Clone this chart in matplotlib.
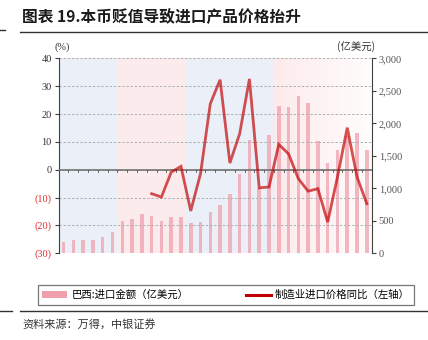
import matplotlib
matplotlib.use("Agg")
import matplotlib.pyplot as plt
import numpy as np
from matplotlib.lines import Line2D
from matplotlib.patches import Patch

years = [str(y) for y in range(1989, 2021)]
imports = [174, 200, 200, 200, 251, 323, 492, 523, 600, 579, 492, 559, 554,
           472, 487, 631, 744, 918, 1215, 1745, 1000, 1826, 2270, 2246, 2415,
           2308, 1723, 1385, 1585, 1810, 1857, 1585]
price_years = [str(y) for y in range(1998, 2021)]
price_yoy = [-8.6, -9.8, -0.9, 1.2, -14.8, -1.4, 23.7, 32.3, 2.4, 12.9, 32.6,
             -6.5, -6.2, 9.1, 5.7, -3.2, -7.7, -6.8, -18.8, -2.6, 15.1, -2.6, -12.2]
left_ticks = [40, 30, 20, 10, 0, -10, -20, -30]
left_labels = ["40", "30", "20", "10", "0", "(10)", "(20)", "(30)"]
right_ticks = [0, 500, 1000, 1500, 2000, 2500, 3000]
right_labels = ["0", "500", "1,000", "1,500", "2,000", "2,500", "3,000"]
title = "图表 19.本币贬值导致进口产品价格抬升"
source = "资料来源：万得，中银证券"
bar_label = "巴西:进口金额（亿美元）"
line_label = "制造业进口价格同比（左轴）"

cjk = ["Noto Sans CJK SC", "DejaVu Sans"]
serif = ["Liberation Serif", "DejaVu Serif"]

fig = plt.figure(figsize=(4.28, 3.40), dpi=100)
W, H = 428, 340
x0, x1, ytop, ybot = 58.7, 371.7, 58.3, 253.3
ax = fig.add_axes([x0 / W, 1 - ybot / H, (x1 - x0) / W, (ybot - ytop) / H])
ax2 = ax.twinx()
ax.set_zorder(ax2.get_zorder() + 1)
ax.patch.set_visible(False)

xs = np.arange(len(years))
ax.set_xlim(-0.5, len(years) - 0.5)
ax.set_ylim(-30, 40)
ax2.set_ylim(0, 3000)

# background shading
ax2.axvspan(-0.5, 5.5, color="#eaeff8", zorder=0, lw=0)
ax2.axvspan(5.5, 12.5, color="#fcebec", zorder=0, lw=0)
ax2.axvspan(12.5, 21.5, color="#eaeff8", zorder=0, lw=0)
grad = np.linspace(0, 1, 256).reshape(1, -1)
c0 = np.array([0.99, 0.92, 0.925])
c1 = np.array([1.0, 0.99, 0.99])
img = c0[None, None, :] * (1 - grad[..., None]) + c1[None, None, :] * grad[..., None]
ax2.imshow(img, extent=[21.5, len(years) - 0.5, 0, 3000], aspect="auto", zorder=0.5)
ax2.set_xlim(-0.5, len(years) - 0.5)

# bars
ax2.bar(xs, imports, width=0.36, color="#f0a0ad", alpha=0.75, zorder=2, lw=0)

# gridlines
for t in left_ticks:
    if t != 0:
        ax.axhline(t, color="#b0b0b0", lw=0.7, ls=(0, (2.5, 1.8)), zorder=1)
ax.axhline(0, color="#707070", lw=1.2, zorder=3)
for k in range(1, len(years)):
    ax.plot([k - 0.5, k - 0.5], [0, -0.9], color="#505050", lw=0.6, zorder=3)

# line
px = [years.index(y) for y in price_years]
ax.plot(px, price_yoy, color="#c00000", alpha=0.68, lw=2.0, zorder=4,
        solid_joinstyle="miter")

# axes formatting
for a in (ax, ax2):
    a.spines["top"].set_visible(False)
    a.spines["bottom"].set_visible(False)
ax.spines["right"].set_visible(False)
ax2.spines["left"].set_visible(False)
ax.spines["left"].set_color("#404040")
ax2.spines["right"].set_color("#404040")

ax.set_yticks(left_ticks)
ax.set_yticklabels(left_labels, fontfamily=serif, fontsize=7.5)
for lab, t in zip(ax.get_yticklabels(), left_ticks):
    lab.set_color("#e03030" if t < 0 else "#333333")
ax.tick_params(axis="y", length=3, width=0.8, color="#404040", pad=2)
ax2.set_yticks(right_ticks)
ax2.set_yticklabels(right_labels, fontfamily=serif, fontsize=7.5, color="#555555")
ax2.tick_params(axis="y", length=3, width=0.8, color="#404040", pad=2)

ax.set_xticks(xs)
ax.set_xticklabels(years, rotation=90, fontfamily=serif, fontsize=7, color="#333333")
ax.tick_params(axis="x", length=0, pad=2)
ax2.set_xticks([])

fig.text(55 / W, 1 - 47 / H, "(%)", fontfamily=serif, fontsize=7.5, color="#333333",
         va="center", ha="left")
fig.text(375 / W, 1 - 47 / H, "(亿美元)", fontfamily=cjk, fontsize=7.5, color="#333333",
         va="center", ha="right")

fig.text(22 / W, 1 - 17 / H, title, fontfamily=cjk, fontsize=11.3, fontweight="bold",
         color="#1a1a1a", va="center", ha="left")
fig.add_artist(Line2D([20 / W, 1.0], [1 - 32 / H, 1 - 32 / H], color="#333333", lw=1.0))
fig.add_artist(Line2D([0, 5 / W], [1 - 30 / H, 1 - 30 / H], color="#333333", lw=1.0))
fig.add_artist(Line2D([20 / W, 1.0], [1 - 311 / H, 1 - 311 / H], color="#333333", lw=1.0))
fig.add_artist(Line2D([0, 12 / W], [1 - 311 / H, 1 - 311 / H], color="#333333", lw=1.0))
fig.text(22 / W, 1 - 324 / H, source, fontfamily=cjk, fontsize=8, style="italic",
         color="#333333", va="center", ha="left")

handles = [Patch(facecolor="#f0a0ad", edgecolor="none"),
           Line2D([0], [0], color="#c00000", lw=2.2)]
leg = fig.legend(handles, [bar_label, line_label], loc="center",
                 bbox_to_anchor=(226 / W, 1 - 295 / H), ncol=2, frameon=True,
                 fancybox=False, prop={"family": cjk, "size": 7.5},
                 handlelength=2.4, handleheight=0.6, columnspacing=5.5,
                 borderpad=0.45, handletextpad=0.4, edgecolor="#555555")
leg.get_frame().set_linewidth(0.9)

fig.savefig("out.png", dpi=100)
